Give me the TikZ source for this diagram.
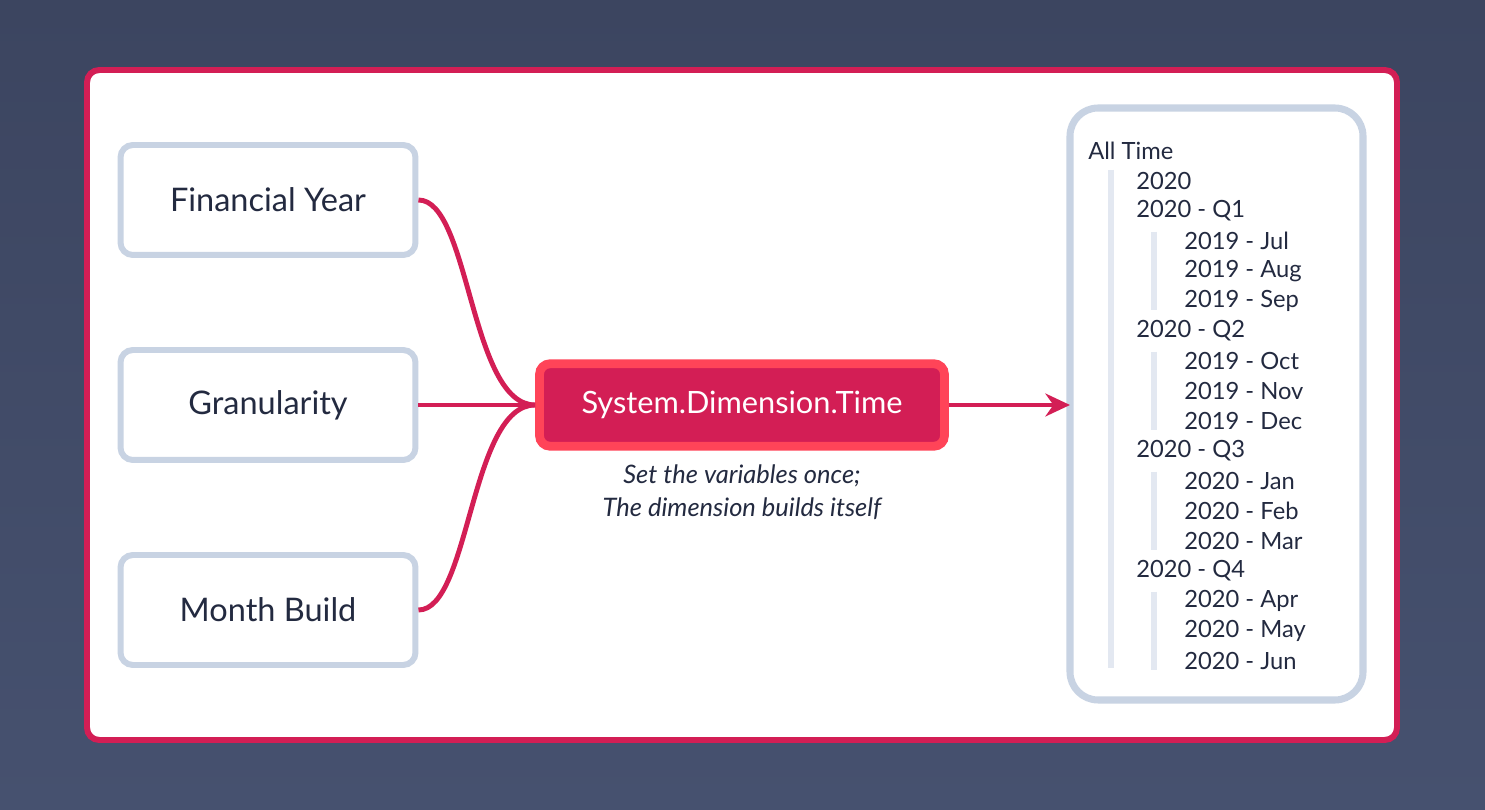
\documentclass[tikz,border=0pt]{standalone}
\usepackage{fontspec}
\setmainfont{Lato}
\usepackage{tikz}
\usetikzlibrary{positioning,arrows.meta}
\definecolor{bgtop}{HTML}{3C4560}
\definecolor{bgbot}{HTML}{46516F}
\definecolor{crimson}{HTML}{D31E55}
\definecolor{coral}{HTML}{FF4458}
\definecolor{slate}{HTML}{C8D3E3}
\definecolor{guide}{HTML}{E3E8F1}
\definecolor{ink}{HTML}{232A40}
\tikzset{
  input/.style={draw=slate, line width=3.4pt, rounded corners=7pt, fill=white,
    minimum width=5.9cm, minimum height=2.2cm, text=ink, font=\fontsize{18.5}{20}\selectfont},
  hub/.style={draw=coral, line width=5pt, rounded corners=6pt, fill=crimson,
    minimum width=8.1cm, minimum height=1.65cm, text=white, font=\fontsize{17.5}{19}\selectfont},
  link/.style={draw=crimson, line width=2.8pt},
  row/.style={anchor=west, inner sep=0pt, text=ink, font=\fontsize{13.5}{15}\selectfont},
  rail/.style={draw=guide, line width=3pt},
}
\begin{document}
\begin{tikzpicture}[x=0.02cm,y=-0.02cm]
\shade[top color=bgtop, bottom color=bgbot] (0,0) rectangle (1485,810);
\useasboundingbox (0,0) rectangle (1485,810);
\draw[crimson, line width=3.4pt, fill=white, rounded corners=7pt] (87,70) rectangle (1397,740);
% inputs
\node[input] (fy) at (268,200) {Financial Year};
\node[input] (gran) at (268,405) {Granularity};
\node[input] (mb) at (268,610) {Month Build};
% hub
\node[hub] (hub) at (742,405) {System.Dimension.Time};
\node[text=ink, font=\itshape\fontsize{14.5}{19}\selectfont, align=center, below=0.15cm of hub]
  (note) {Set the variables once;\\The dimension builds itself};
% tree panel
\draw[slate, line width=4pt, rounded corners=16pt] (1070,108) rectangle (1363,700);
\coordinate (tree) at (1070,405);
\draw[link] (fy.east) .. controls (470,200) and (470,405) .. (hub.west);
\draw[link] (gran.east) -- (hub.west);
\draw[link] (mb.east) .. controls (470,610) and (470,405) .. (hub.west);
\draw[link, -{Stealth[length=14pt,width=13pt]}] (hub.east) -- (tree);
% tree rows
\node[row] at (1088,151) {All Time};
\draw[rail] (1111,170) -- (1111,668);
\foreach \y in {232,352,472,592} \draw[rail] (1154,\y) -- (1154,\y+78);
\foreach \t/\y in {2020/181, 2020 - Q1/211, 2020 - Q2/331, 2020 - Q3/451, 2020 - Q4/571}
  \node[row] at (1136,\y) {\t};
\foreach \t [count=\i from 0] in {2019 - Jul,2019 - Aug,2019 - Sep}
  \node[row] at (1184,241+30*\i) {\t};
\foreach \t [count=\i from 0] in {2019 - Oct,2019 - Nov,2019 - Dec}
  \node[row] at (1184,361+30*\i) {\t};
\foreach \t [count=\i from 0] in {2020 - Jan,2020 - Feb,2020 - Mar}
  \node[row] at (1184,481+30*\i) {\t};
\foreach \t [count=\i from 0] in {2020 - Apr,2020 - May,2020 - Jun}
  \node[row] at (1184,601+30*\i) {\t};
\end{tikzpicture}
\end{document}
